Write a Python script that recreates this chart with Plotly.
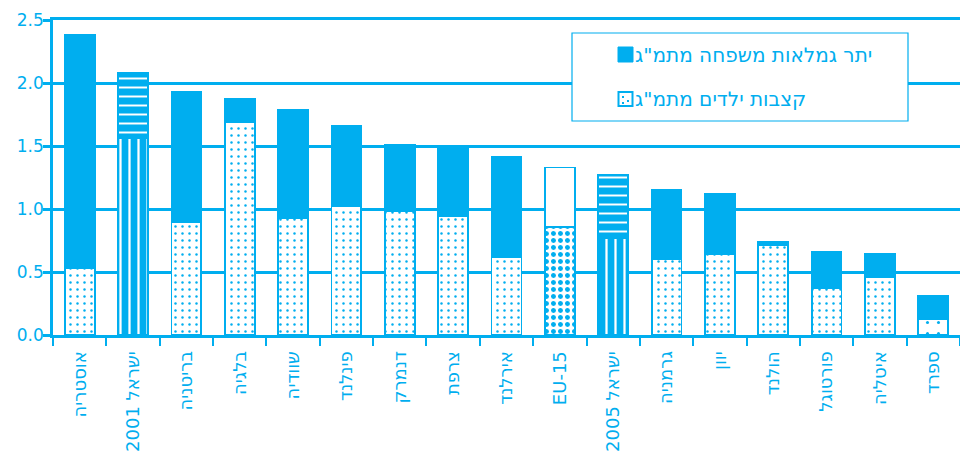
import plotly.graph_objects as go

# ---- data ----
countries = ["אוסטריה", "ישראל 2001", "בריטניה", "בלגיה", "שוודיה", "פינלנד", "דנמרק",
             "צרפת", "אירלנד", "EU-15", "ישראל 2005", "גרמניה", "יוון", "הולנד",
             "פורטוגל", "איטליה", "ספרד"]
total_family_benefits = [2.38, 2.08, 1.93, 1.87, 1.79, 1.66, 1.51, 1.49, 1.41, 1.33, 1.27,
                         1.15, 1.12, 0.74, 0.66, 0.64, 0.31]
child_allowances = [0.53, 1.56, 0.90, 1.69, 0.93, 1.02, 0.98, 0.94, 0.62, 0.86, 0.77,
                    0.60, 0.64, 0.71, 0.37, 0.46, 0.13]
other_benefits = [round(t - c, 3) for t, c in zip(total_family_benefits, child_allowances)]
y_ticks = [0.0, 0.5, 1.0, 1.5, 2.0, 2.5]
legend_other = 'יתר גמלאות משפחה מתמ"ג'
legend_child = 'קצבות ילדים מתמ"ג'

CYAN = "#00AEEF"
WHITE = "#FFFFFF"
FONT = "DejaVu Sans, sans-serif"

# per-bar styling: (bg colour, pattern shape, fg colour, size, solidity)
def bottom_style(name):
    if name.startswith("ישראל"):
        return CYAN, "|", WHITE, 9, 0.25
    if name == "EU-15":
        return WHITE, ".", CYAN, 7, 0.4
    if name == "ספרד":
        return WHITE, ".", CYAN, 11, 0.06
    return WHITE, ".", CYAN, 7, 0.1

def top_style(name):
    if name.startswith("ישראל"):
        return CYAN, "-", WHITE, 9, 0.22
    if name == "EU-15":
        return WHITE, ".", WHITE, 8, 0.1
    return CYAN, "", CYAN, 8, 0.1

b_bg, b_shape, b_fg, b_size, b_sol = zip(*[bottom_style(c) for c in countries])
t_bg, t_shape, t_fg, t_size, t_sol = zip(*[top_style(c) for c in countries])

fig = go.Figure()
fig.add_trace(go.Bar(
    x=countries, y=child_allowances, name=legend_child, width=0.56,
    marker=dict(color=WHITE, line=dict(color=CYAN, width=1.8),
                pattern=dict(shape=list(b_shape), bgcolor=list(b_bg), fgcolor=list(b_fg),
                             size=list(b_size), solidity=list(b_sol), fillmode="replace")),
    showlegend=False,
))
fig.add_trace(go.Bar(
    x=countries, y=other_benefits, name=legend_other, width=0.56,
    marker=dict(color=CYAN, line=dict(color=CYAN, width=1.8),
                pattern=dict(shape=list(t_shape), bgcolor=list(t_bg), fgcolor=list(t_fg),
                             size=list(t_size), solidity=list(t_sol), fillmode="replace")),
    showlegend=False,
))

# manual legend (box with symbol + RTL text, as in the reference)
L, T, W, H = 53, 20, 907, 315
def px(x):
    return (x - L) / W
def py(y):
    return (T + H - y) / H

shapes = [
    dict(type="rect", xref="paper", yref="paper", x0=px(572), x1=px(908), y0=py(121), y1=py(33),
         line=dict(color=CYAN, width=1.2), fillcolor=WHITE, layer="above"),
    dict(type="rect", xref="paper", yref="paper", x0=px(618), x1=px(633), y0=py(62), y1=py(47),
         line=dict(color=CYAN, width=1), fillcolor=CYAN, layer="above"),
    dict(type="rect", xref="paper", yref="paper", x0=px(618.5), x1=px(632.5), y0=py(106), y1=py(92),
         line=dict(color=CYAN, width=2), fillcolor=WHITE, layer="above"),
]
for dx, dy in [(623, 97), (628, 101), (623, 103)]:
    shapes.append(dict(type="rect", xref="paper", yref="paper", x0=px(dx - 1), x1=px(dx + 1),
                       y0=py(dy + 1), y1=py(dy - 1), line=dict(width=0), fillcolor=CYAN,
                       layer="above"))

annotations = [
    dict(xref="paper", yref="paper", x=px(633), y=py(55), text=legend_other, showarrow=False,
         xanchor="left", yanchor="middle", font=dict(family=FONT, size=20, color=CYAN)),
    dict(xref="paper", yref="paper", x=px(633), y=py(99), text=legend_child, showarrow=False,
         xanchor="left", yanchor="middle", font=dict(family=FONT, size=20, color=CYAN)),
]

fig.update_layout(
    barmode="stack",
    width=960, height=455,
    margin=dict(l=L, r=960 - L - W, t=T, b=455 - T - H, pad=0),
    paper_bgcolor=WHITE, plot_bgcolor=WHITE,
    font=dict(family=FONT, size=16, color=CYAN),
    shapes=shapes, annotations=annotations,
)
fig.update_xaxes(
    type="category", automargin=False, showgrid=False, showline=True, linecolor=CYAN,
    linewidth=3, mirror=True, ticks="outside", tickson="boundaries", ticklen=8, tickwidth=2,
    tickcolor=CYAN, tickangle=-90, ticklabelstandoff=6,
    tickfont=dict(family=FONT, size=18, color=CYAN),
)
fig.update_yaxes(
    range=[0, 2.5], tickvals=y_ticks, tickformat=".1f", automargin=False, showgrid=True,
    gridcolor=CYAN, gridwidth=2.5, showline=True, linecolor=CYAN, linewidth=2.5,
    ticks="outside", ticklen=7, tickwidth=2.5, tickcolor=CYAN, zeroline=False,
    ticklabelstandoff=-4, tickfont=dict(family=FONT, size=17, color=CYAN),
)

fig.write_html("out.html", config={"displayModeBar": False},
               post_script="document.body.style.margin='0px';")
